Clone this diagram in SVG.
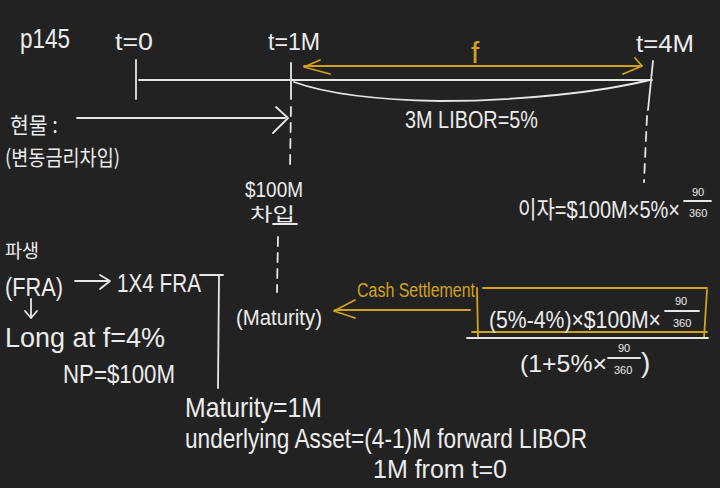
<svg xmlns="http://www.w3.org/2000/svg" width="720" height="488" viewBox="0 0 720 488">
<style>
.t{font-family:"Liberation Sans","Noto Sans CJK KR",sans-serif;fill:#ececec}
.k{font-family:"Noto Sans CJK KR","Liberation Sans",sans-serif;fill:#ececec}
.s{font-family:"Liberation Sans",sans-serif;font-size:11px;fill:#ececec}
.g{fill:#d1a21a}
.w{stroke:#e6e6e6;stroke-width:1.8;fill:none;stroke-linecap:round;stroke-linejoin:round}
.y{stroke:#d1a21a;stroke-width:1.8;fill:none;stroke-linecap:round;stroke-linejoin:round}
.d{stroke-dasharray:9 7}
</style>
<rect width="720" height="488" fill="#222222"/>

<g id="page"><text class="t" x="20" y="48" font-size="28" textLength="50" lengthAdjust="spacingAndGlyphs">p145</text></g>
<g id="t0"><text class="t" x="115" y="50" font-size="24" textLength="38" lengthAdjust="spacingAndGlyphs">t=0</text></g>
<g id="t1M"><text class="t" x="268" y="50" font-size="24" textLength="52" lengthAdjust="spacingAndGlyphs">t=1M</text></g>
<g id="t4M"><text class="t" x="636" y="52" font-size="24" textLength="58" lengthAdjust="spacingAndGlyphs">t=4M</text></g>
<g id="f"><text class="t g" x="471" y="63" font-size="30">f</text></g>
<g id="libor"><text class="t" x="405" y="128" font-size="24" textLength="133" lengthAdjust="spacingAndGlyphs">3M LIBOR=5%</text></g>
<g id="spot">
<text class="k" x="10" y="133" font-size="22" textLength="48" lengthAdjust="spacingAndGlyphs">현물 :</text>
<text class="k" x="5" y="165" font-size="21" textLength="115" lengthAdjust="spacingAndGlyphs">(변동금리차입)</text>
</g>
<g id="borrow">
<text class="t" x="245" y="197" font-size="22" textLength="58" lengthAdjust="spacingAndGlyphs">$100M</text>
<text class="k" x="250" y="221" font-size="18" textLength="45" lengthAdjust="spacingAndGlyphs">차입</text>
<line class="w" x1="273" y1="224" x2="297" y2="224"/>
</g>
<g id="interest">
<text class="t" x="518" y="218" font-size="24" textLength="162" lengthAdjust="spacingAndGlyphs">이자=$100M×5%×</text>
<text class="s" x="692" y="196">90</text>
<line class="w" x1="684" y1="201" x2="711" y2="201"/>
<text class="s" x="689" y="217">360</text>
</g>
<g id="deriv">
<text class="k" x="5" y="258" font-size="19" textLength="34" lengthAdjust="spacingAndGlyphs">파생</text>
<text class="t" x="5" y="296" font-size="26" textLength="58" lengthAdjust="spacingAndGlyphs">(FRA)</text>
</g>
<g id="fra"><text class="t" x="117" y="292" font-size="26" textLength="84" lengthAdjust="spacingAndGlyphs">1X4 FRA</text></g>
<g id="long">
<text class="t" x="5" y="347" font-size="28" textLength="160" lengthAdjust="spacingAndGlyphs">Long at f=4%</text>
<text class="t" x="63" y="383" font-size="26" textLength="112" lengthAdjust="spacingAndGlyphs">NP=$100M</text>
</g>
<g id="maturity"><text class="t" x="236" y="325" font-size="22" textLength="86" lengthAdjust="spacingAndGlyphs">(Maturity)</text></g>
<g id="cash"><text class="t g" x="357" y="297" font-size="20" textLength="118" lengthAdjust="spacingAndGlyphs">Cash Settlement</text></g>
<g id="payoff">
<path class="y" d="M483,288 L707,288 M477,288 L478,338 M472,332 L707,332 M707,290 L704,338"/>
<text class="t" x="489" y="328" font-size="24" textLength="172" lengthAdjust="spacingAndGlyphs">(5%-4%)×$100M×</text>
<text class="s" x="675" y="305">90</text>
<line class="w" x1="665" y1="311" x2="699" y2="311"/>
<text class="s" x="673" y="327">360</text>
<line class="w" x1="467" y1="338" x2="708" y2="338"/>
<text class="t" x="520" y="372" font-size="24" textLength="87" lengthAdjust="spacingAndGlyphs">(1+5%×</text>
<text class="s" x="618" y="352">90</text>
<line class="w" x1="608" y1="358" x2="640" y2="358"/>
<text class="s" x="614" y="374">360</text>
<text class="t" x="641" y="372" font-size="28">)</text>
</g>
<g id="notes">
<text class="t" x="185" y="417" font-size="28" textLength="137" lengthAdjust="spacingAndGlyphs">Maturity=1M</text>
<text class="t" x="185" y="448" font-size="28" textLength="402" lengthAdjust="spacingAndGlyphs">underlying Asset=(4-1)M forward LIBOR</text>
<text class="t" x="373" y="478" font-size="26" textLength="134" lengthAdjust="spacingAndGlyphs">1M from t=0</text>
</g>

<g id="connectors">
<line class="w" x1="139" y1="80" x2="652" y2="80"/>
<line class="w" x1="136" y1="60" x2="136" y2="99"/>
<line class="w" x1="291" y1="63" x2="291" y2="99"/>
<line class="w" x1="653" y1="61" x2="648" y2="110"/>
<path class="w" d="M294,82 C330,95 380,100 440,101 C520,101 600,92 650,80"/>
<path class="y" d="M304,66 L641,66 M320,60 L304,67 L330,74 M635,58 L642,66 L623,74"/>
<path class="w" d="M77,118 L285,118 M276,107 L288,118 L273,133"/>
<line class="w d" x1="291" y1="107" x2="290" y2="168"/>
<line class="w d" x1="278" y1="237" x2="277" y2="292"/>
<line class="w d" x1="647" y1="116" x2="644" y2="182"/>
<path class="w" d="M75,281 L110,281 M100,275 L110,281 L100,289"/>
<path class="w" d="M31,299 L31,318 M25,311 L31,318 L37,311"/>
<path class="w" d="M200,275 L223,275 M219,276 L218,388"/>
<path class="y" d="M335,310 L470,310 M355,300 L334,311 L355,318"/>
</g>
</svg>
